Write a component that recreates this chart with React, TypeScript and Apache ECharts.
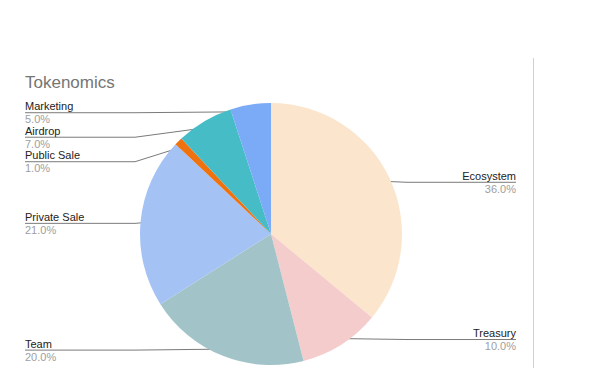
import React, { useEffect, useRef } from "react";
import * as echarts from "echarts";

const categories = ["Ecosystem", "Treasury", "Team", "Private Sale", "Public Sale", "Airdrop", "Marketing"];
const values = [36, 10, 20, 21, 1, 7, 5];
const colors = ["#fce5cd", "#f4cccc", "#a2c4c9", "#a4c2f4", "#f0720f", "#46bdc6", "#7baaf7"];
const titleText = "Tokenomics";

const CX = 271;
const CY = 234;
const R = 131;
const LEFT_X = 25;
const RIGHT_X = 516;
const FONT = "'Liberation Sans', Arial, sans-serif";

export default function App() {
  const ref = useRef<HTMLDivElement>(null);
  useEffect(() => {
    const chart = echarts.init(ref.current!, null, { renderer: "svg" });
    const total = values.reduce((a, b) => a + b, 0);
    let cum = 0;
    const anchors = values.map((v) => {
      const mid = ((cum + v / 2) / total) * 2 * Math.PI;
      cum += v;
      return {
        x: CX + R * 0.945 * Math.sin(mid),
        y: CY - R * 0.945 * Math.cos(mid),
        left: Math.sin(mid) < 0,
      };
    });
    const labelY = anchors.map((a) => a.y);
    [true, false].forEach((isLeft) => {
      const idx = anchors
        .map((_, i) => i)
        .filter((i) => anchors[i].left === isLeft)
        .sort((i, j) => anchors[i].y - anchors[j].y);
      let prev = -Infinity;
      idx.forEach((i) => {
        const y = Math.max(anchors[i].y + 1, prev + 24.5);
        labelY[i] = y;
        prev = y;
      });
    });

    chart.setOption({
      animation: false,
      title: {
        text: titleText,
        left: 25,
        top: 74,
        padding: 0,
        textStyle: { fontSize: 17, fontWeight: "normal", color: "#757575", fontFamily: FONT },
      },
      graphic: [
        {
          type: "line",
          shape: { x1: 533.5, y1: 58, x2: 533.5, y2: 368 },
          style: { stroke: "#d0d0d0", lineWidth: 1 },
        },
      ],
      series: [
        {
          type: "pie",
          center: [CX, CY],
          radius: [0, R],
          startAngle: 90,
          clockwise: true,
          avoidLabelOverlap: false,
          itemStyle: { borderWidth: 0 },
          emphasis: { disabled: true },
          data: categories.map((name, i) => ({
            name,
            value: values[i],
            itemStyle: { color: colors[i] },
          })),
          label: {
            show: true,
            position: "outside",
            formatter: (p: any) => `{n|${p.name}}\n{p|${p.percent.toFixed(1)}%}`,
            rich: {
              n: { fontSize: 11, color: "#222222", lineHeight: 13, fontFamily: FONT },
              p: { fontSize: 11, color: "#9e9e9e", lineHeight: 13, fontFamily: FONT },
            },
          },
          labelLine: { show: true, lineStyle: { color: "#7a7a7a", width: 1 } },
          labelLayout: (params: any) => {
            const i = params.dataIndex;
            const a = anchors[i];
            const y = labelY[i];
            if (a.left) {
              return {
                x: LEFT_X,
                y,
                align: "left",
                verticalAlign: "middle",
                labelLinePoints: [
                  [a.x, a.y],
                  [CX - R - 5, y],
                  [LEFT_X, y],
                ],
              };
            }
            return {
              x: RIGHT_X,
              y,
              align: "right",
              verticalAlign: "middle",
              labelLinePoints: [
                [a.x, a.y],
                [CX + R + 5, y],
                [RIGHT_X, y],
              ],
            };
          },
        },
      ],
    });
    return () => chart.dispose();
  }, []);
  return (
    <div
      ref={ref}
      style={{ position: "fixed", left: 0, top: 0, width: 600, height: 368, background: "#fff" }}
    />
  );
}
